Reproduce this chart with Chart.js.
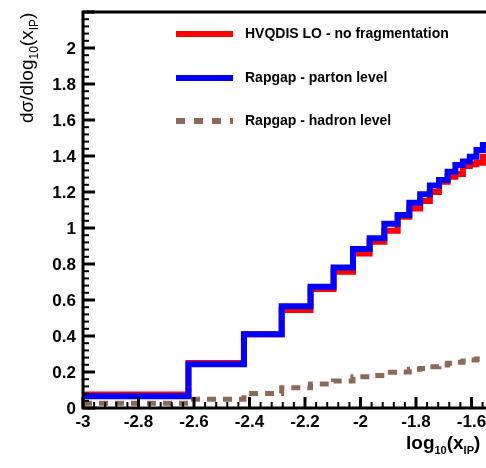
<!DOCTYPE html>
<html>
<head>
<meta charset="utf-8">
<script src="https://cdn.jsdelivr.net/npm/chart.js@4"></script>
<style>
  html, body { margin: 0; padding: 0; background: #fff; }
  #wrap { width: 486px; height: 468px; position: relative; }
</style>
</head>
<body>
<div id="wrap"><canvas id="c" width="486" height="468"></canvas></div>
<script>
// ---- data ----
const binEdges = [-3, -2.62, -2.42, -2.284, -2.18, -2.097, -2.027, -1.967, -1.914, -1.866, -1.824,
                  -1.785, -1.75, -1.717, -1.686, -1.658, -1.631, -1.606, -1.582, -1.559, -1.538];
const hvqdisLO = [0.075, 0.25, 0.41, 0.545, 0.661, 0.757, 0.859, 0.924, 0.985, 1.063,
                  1.109, 1.15, 1.2, 1.257, 1.285, 1.3, 1.344, 1.354, 1.363, 1.396];
const rapgapParton = [0.065, 0.243, 0.41, 0.565, 0.674, 0.781, 0.883, 0.943, 1.024, 1.072,
                      1.14, 1.188, 1.236, 1.267, 1.313, 1.35, 1.37, 1.396, 1.433, 1.461];
const rapgapHadron = [0.026, 0.048, 0.081, 0.113, 0.133, 0.15, 0.174, 0.18, 0.198, 0.2,
                      0.215, 0.22, 0.229, 0.239, 0.248, 0.254, 0.261, 0.267, 0.272, 0.275];
const seriesNames = ['HVQDIS LO - no fragmentation', 'Rapgap - parton level', 'Rapgap - hadron level'];
const xTickLabels = ['-3', '-2.8', '-2.6', '-2.4', '-2.2', '-2', '-1.8', '-1.6'];
const yTickLabels = ['0', '0.2', '0.4', '0.6', '0.8', '1', '1.2', '1.4', '1.6', '1.8', '2'];
const X_MIN = -3, X_MAX = -1.5477, Y_MIN = 0, Y_MAX = 2.2, MINOR = 0.04;

function histPoints(vals) {
  const pts = vals.map((v, i) => ({ x: binEdges[i], y: v }));
  pts.push({ x: binEdges[binEdges.length - 1], y: vals[vals.length - 1] });
  return pts;
}

const RED = '#ff0000', BLUE = '#0000ff', BROWN = 'rgb(140,106,90)';
const FONT = '"Liberation Sans", Arial, sans-serif';

const decor = {
  id: 'decor',
  afterDraw(chart) {
    const ctx = chart.ctx, xs = chart.scales.x, ys = chart.scales.y, a = chart.chartArea;
    ctx.save();
    ctx.strokeStyle = '#000';
    ctx.lineCap = 'butt';
    // axis frame lines
    ctx.lineWidth = 3;
    ctx.beginPath();
    ctx.moveTo(a.left, a.top); ctx.lineTo(a.right, a.top);
    ctx.moveTo(a.left, a.top - 1.5); ctx.lineTo(a.left, a.bottom + 1.5);
    ctx.moveTo(a.left - 1.5, a.bottom); ctx.lineTo(a.right, a.bottom);
    ctx.stroke();
    // y ticks
    const nY = Math.round((Y_MAX - Y_MIN) / MINOR);
    for (let i = 0; i <= nY; i++) {
      const v = Y_MIN + i * MINOR;
      const major = i % 5 === 0;
      const py = ys.getPixelForValue(v);
      ctx.lineWidth = major ? 3 : 2;
      ctx.beginPath();
      ctx.moveTo(a.left, py); ctx.lineTo(a.left + (major ? 12 : 6), py);
      ctx.stroke();
    }
    // x ticks
    const nX = Math.floor((X_MAX - X_MIN) / MINOR + 1e-6);
    for (let i = 0; i <= nX; i++) {
      const v = X_MIN + i * MINOR;
      const major = i % 5 === 0;
      const px = xs.getPixelForValue(v);
      ctx.lineWidth = major ? 3 : 2;
      ctx.beginPath();
      ctx.moveTo(px, a.bottom); ctx.lineTo(px, a.bottom - (major ? 11 : 6));
      ctx.stroke();
    }
    // tick labels
    ctx.fillStyle = '#000';
    ctx.font = 'bold 17px ' + FONT;
    ctx.textAlign = 'right'; ctx.textBaseline = 'middle';
    yTickLabels.forEach(t => ctx.fillText(t, a.left - 7, ys.getPixelForValue(parseFloat(t)) + 1));
    ctx.textAlign = 'center'; ctx.textBaseline = 'middle';
    xTickLabels.forEach(t => ctx.fillText(t, xs.getPixelForValue(parseFloat(t)), a.bottom + 14));

    // rich text helper: parts [text, isSub]
    function rich(parts, x, y, big, small, weight) {
      let cx = x;
      parts.forEach(([t, sub]) => {
        ctx.font = weight + ' ' + (sub ? small : big) + 'px ' + FONT;
        ctx.fillText(t, cx, sub ? y + big * 0.28 : y);
        cx += ctx.measureText(t).width;
      });
    }
    ctx.textAlign = 'left'; ctx.textBaseline = 'alphabetic';
    // x title
    rich([['log', 0], ['10', 1], ['(x', 0], ['IP', 1], [')', 0]], 406, 449, 19, 11, 'bold');
    // y title
    ctx.save();
    ctx.translate(33, 123);
    ctx.rotate(-Math.PI / 2);
    rich([['d\u03C3/dlog', 0], ['10', 1], ['(x', 0], ['IP', 1], [')', 0]], 0, 0, 19, 12, 'normal');
    ctx.restore();

    // legend
    const legend = [[seriesNames[0], RED, [], 34], [seriesNames[1], BLUE, [], 78], [seriesNames[2], BROWN, [9, 9], 121]];
    legend.forEach(([name, col, dash, y]) => {
      ctx.strokeStyle = col; ctx.lineWidth = 6; ctx.setLineDash(dash);
      ctx.beginPath(); ctx.moveTo(176, y); ctx.lineTo(233, y); ctx.stroke();
      ctx.setLineDash([]);
      ctx.fillStyle = '#000';
      ctx.font = 'bold 14px ' + FONT;
      ctx.textBaseline = 'middle';
      ctx.fillText(name, 245, y);
    });
    ctx.restore();
  }
};

new Chart(document.getElementById('c'), {
  type: 'line',
  data: {
    datasets: [
      { label: seriesNames[2], data: histPoints(rapgapHadron), borderColor: BROWN, borderWidth: 5,
        borderDash: [9, 7], stepped: true, pointRadius: 0, fill: false, order: 3 },
      { label: seriesNames[0], data: histPoints(hvqdisLO), borderColor: RED, borderWidth: 6,
        stepped: true, pointRadius: 0, fill: false, order: 2 },
      { label: seriesNames[1], data: histPoints(rapgapParton), borderColor: BLUE, borderWidth: 6,
        stepped: true, pointRadius: 0, fill: false, order: 1 }
    ]
  },
  options: {
    responsive: false,
    animation: false,
    layout: { padding: { left: 83, top: 12, right: 0, bottom: 60 } },
    plugins: { legend: { display: false }, tooltip: { enabled: false } },
    scales: {
      x: { type: 'linear', min: X_MIN, max: X_MAX, display: false },
      y: { type: 'linear', min: Y_MIN, max: Y_MAX, display: false }
    }
  },
  plugins: [decor]
});
</script>
</body>
</html>
